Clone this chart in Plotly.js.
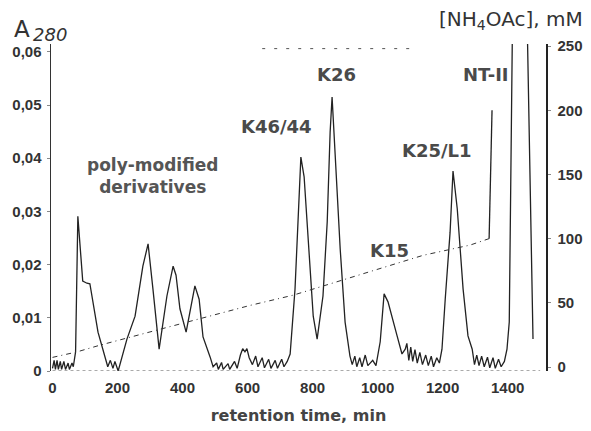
<!DOCTYPE html>
<html>
<head>
<meta charset="utf-8">
<script src="https://cdn.plot.ly/plotly-3.0.1.min.js"></script>
<style>html,body{margin:0;padding:0;background:#fff;}#chart{width:591px;height:431px;}</style>
</head>
<body>
<div id="chart"></div>
<script>
// A280 absorbance profile (retention time in min, absorbance)
const timeA280 = [0,5,9,14,18,24,28,35,40,48,52,60,64,71,78,82,93,106,115,140,162,170,178,186,192,202,229,254,278,294,309,328,352,371,380,392,411,438,451,463,485,494,505,510,520,525,540,545,560,568,578,585,592,598,605,615,625,632,645,652,665,672,685,692,705,712,722,731,746,764,774,786,802,814,832,845,854,860,872,885,900,915,922,930,936,945,952,962,970,985,995,1008,1020,1032,1060,1075,1085,1090,1096,1102,1108,1115,1122,1130,1138,1148,1156,1165,1172,1182,1190,1198,1208,1223,1232,1245,1263,1278,1291,1298,1305,1312,1320,1328,1338,1345,1355,1362,1372,1380,1390,1398,1405,1415,1460,1478];
const absA280 = [0.0005,0.002,0.0003,0.002,0.0003,0.0018,0.0003,0.0018,0.0003,0.0015,0.0003,0.0015,0.0008,0.0036,0.0291,0.0254,0.0169,0.0165,0.0164,0.0073,0.0023,0.0008,0.002,0.0005,0.0018,0.0,0.006,0.0103,0.0197,0.0239,0.0154,0.0041,0.0141,0.0197,0.018,0.0117,0.0073,0.016,0.0135,0.0064,0.0026,0.0008,0.0015,0.0003,0.0016,0.0003,0.0014,0.0003,0.0018,0.0005,0.003,0.0042,0.0036,0.0042,0.0025,0.0012,0.0028,0.0008,0.0025,0.0006,0.0022,0.0005,0.002,0.0005,0.0022,0.0008,0.0018,0.0032,0.0154,0.0402,0.0365,0.0248,0.0103,0.006,0.0141,0.028,0.0449,0.0515,0.0385,0.0229,0.0092,0.0028,0.0012,0.0028,0.0008,0.0025,0.0008,0.003,0.001,0.002,0.001,0.0055,0.0145,0.013,0.0066,0.0032,0.0041,0.0052,0.002,0.0045,0.0018,0.004,0.0015,0.0035,0.0012,0.003,0.001,0.0028,0.0008,0.0025,0.0015,0.0041,0.0135,0.0261,0.0376,0.0305,0.0154,0.0066,0.0041,0.0012,0.003,0.001,0.0028,0.0008,0.0026,0.0006,0.0025,0.0005,0.0022,0.0008,0.0018,0.0041,0.0092,0.066,0.066,0.006];

// NH4OAc gradient (mM): linear ramp, then a step to 200 mM
const timeGradient = [0,74,146,341,454,608,741,906,1140,1285,1343,1352];
const concGradient = [7.5,11.7,17,30,38,48,56,69,87,95,100,200];
const rampEnd = 11; // points of the ramp (the last point starts the step)

// faint dotted mark near the top (mM)
const timeTopMark = [645,1109];
const concTopMark = [248,248];

// tick labels
const xTicks = [0,200,400,600,800,1000,1200,1400];
const xTickText = ['0','200','400','600','800','1000','1200','1400'];
const yTicks = [0,0.01,0.02,0.03,0.04,0.05,0.06];
const yTickText = ['0','0,01','0,02','0,03','0,04','0,05','0,06'];
const y2Ticks = [0,50,100,150,200,250];
const y2TickText = ['0','50','100','150','200','250'];

// peak labels
const peakLabels = ['poly-modified<br>derivatives','K46/44','K26','NT-II','K25/L1','K15'];
const peakLabelX = [309,688,875,1334,1183,1038];
const peakLabelY = [0.0366,0.046,0.0558,0.0558,0.0414,0.0227];

const labelFont = {family:'DejaVu Sans', size:18, color:'#4a4a4a', weight:'bold'};

const traces = [
  {x:timeGradient.slice(0,rampEnd), y:concGradient.slice(0,rampEnd), yaxis:'y2', mode:'lines', line:{color:'#333', width:1, dash:'5px,4px,1px,4px'}, hoverinfo:'skip'},
  {x:timeGradient.slice(rampEnd-1), y:concGradient.slice(rampEnd-1), yaxis:'y2', mode:'lines', line:{color:'#222', width:1.3}, hoverinfo:'skip'},
  {x:timeTopMark, y:concTopMark, yaxis:'y2', mode:'lines', line:{color:'#555', width:1, dash:'3px,9px'}, hoverinfo:'skip'},
  {x:timeA280, y:absA280, mode:'lines', line:{color:'#222', width:1.3}, hoverinfo:'skip'}
];

const annotations = peakLabels.map((t,i)=>({
  text:t, x:peakLabelX[i], y:peakLabelY[i], xref:'x', yref:'y', showarrow:false,
  xanchor:'center', yanchor:'middle',
  font: i===0 ? {family:'DejaVu Sans', size:17, color:'#555', weight:'bold'} : labelFont
}));
annotations.push({text:'A', xref:'paper', yref:'paper', x:-0.058, y:1.046, showarrow:false, xanchor:'center', yanchor:'middle', font:{family:'DejaVu Sans', size:23, color:'#333'}});
annotations.push({text:'<i>280</i>', xref:'paper', yref:'paper', x:-0.002, y:1.028, showarrow:false, xanchor:'center', yanchor:'middle', font:{family:'DejaVu Sans', size:18, color:'#333'}});
annotations.push({text:'[NH<sub>4</sub>OAc], mM', xref:'paper', yref:'paper', x:0.929, y:1.073, showarrow:false, xanchor:'center', yanchor:'middle', font:{family:'DejaVu Sans', size:20, color:'#333'}});

const layout = {
  width:591, height:431,
  margin:{l:51, r:45, t:44, b:60},
  paper_bgcolor:'#fff', plot_bgcolor:'#fff',
  showlegend:false,
  xaxis:{range:[-4.6,1518], tickvals:xTicks, ticktext:xTickText, showgrid:false, zeroline:false, showline:false, ticks:'',
    ticklabelstandoff:6,
    tickfont:{family:'Liberation Sans', size:15, color:'#333', weight:'bold'},
    title:{text:'retention time, min', standoff:14, font:{family:'DejaVu Sans', size:16, color:'#444', weight:'bold'}}},
  yaxis:{range:[0,0.06147], tickvals:yTicks, ticktext:yTickText, showgrid:false, zeroline:false, showline:true, linecolor:'#333', linewidth:1.5,
    ticks:'outside', ticklen:3, tickcolor:'#888', ticklabelstandoff:2,
    tickfont:{family:'Liberation Sans', size:15, color:'#333', weight:'bold'}},
  yaxis2:{overlaying:'y', side:'right', range:[-3.1,251.6], tickvals:y2Ticks, ticktext:y2TickText, showgrid:false, zeroline:false, showline:true, linecolor:'#222', linewidth:1.5,
    ticks:'outside', ticklen:3, tickcolor:'#888', ticklabelstandoff:4,
    tickfont:{family:'Liberation Sans', size:15, color:'#333', weight:'bold'}},
  shapes:[{type:'line', xref:'x', yref:'y', x0:0, x1:1500, y0:0, y1:0, line:{color:'#555', width:1, dash:'dot'}}],
  annotations:annotations
};

Plotly.newPlot('chart', traces, layout, {staticPlot:true, displayModeBar:false});
</script>
</body>
</html>
